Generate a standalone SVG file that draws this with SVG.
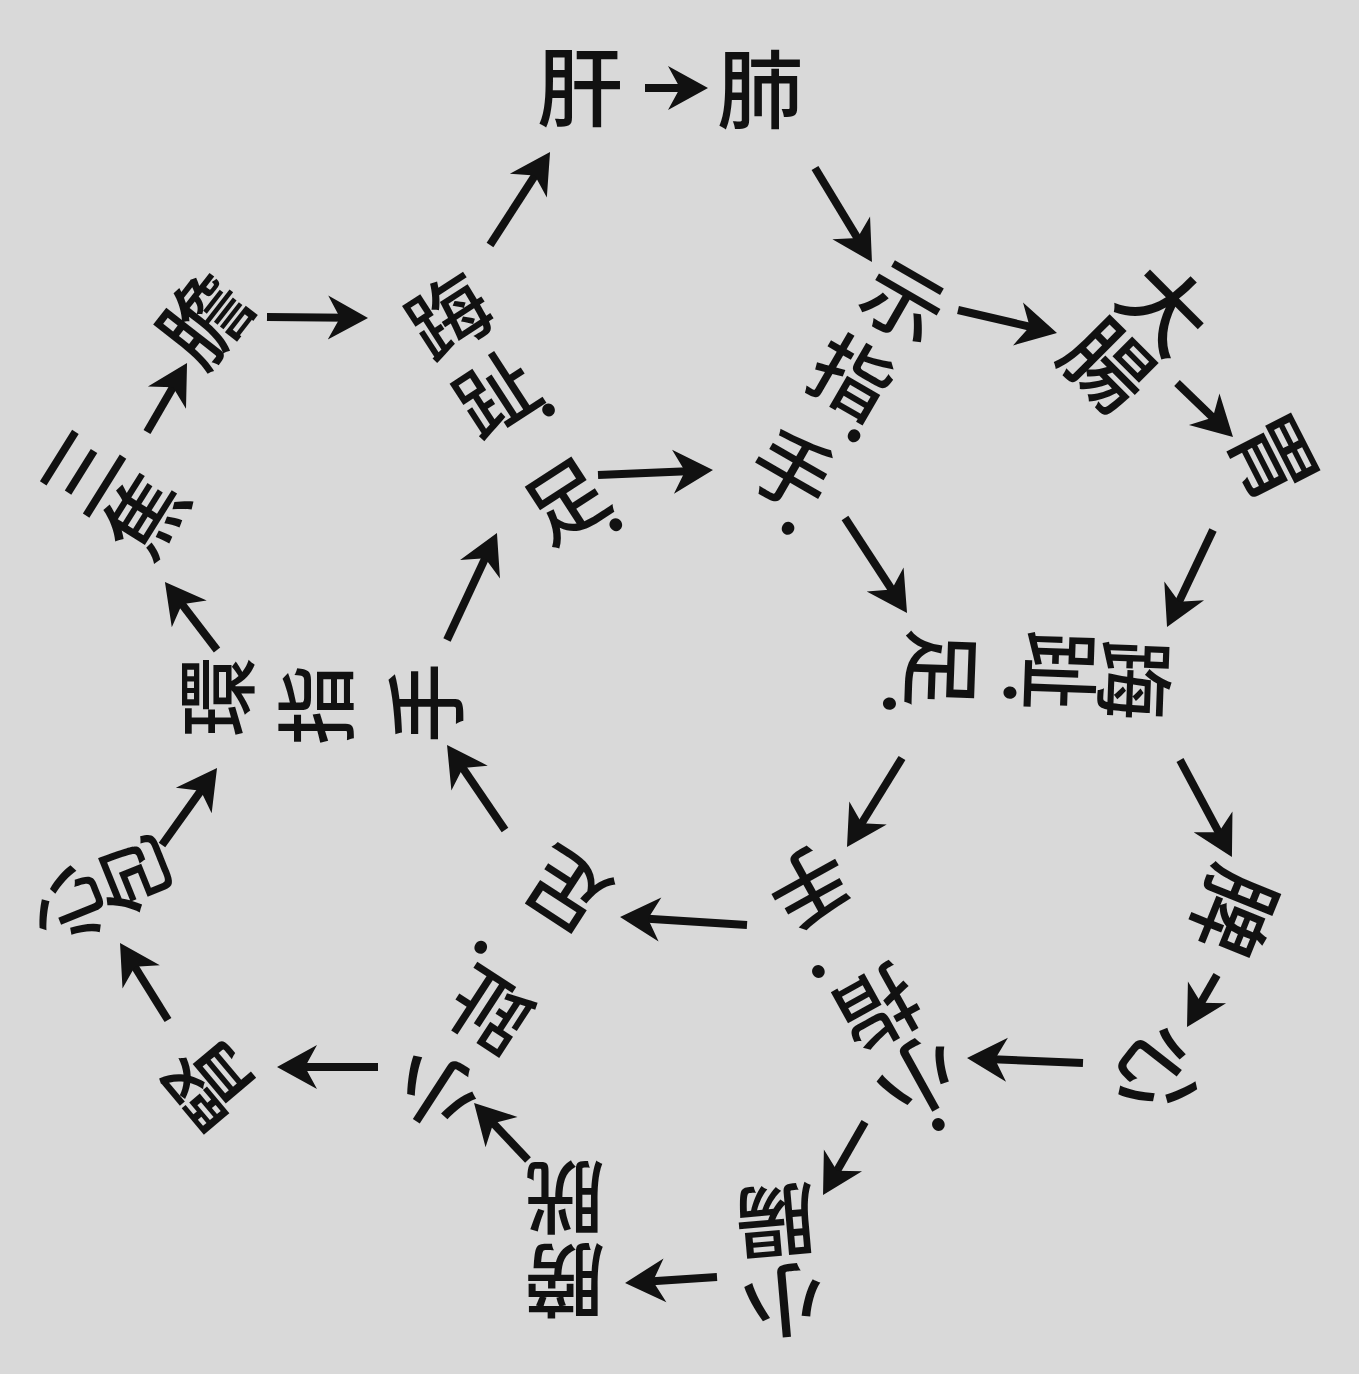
<svg xmlns="http://www.w3.org/2000/svg" width="1359" height="1374" viewBox="0 0 1359 1374">
<defs>
<style>
.t{font-family:"Noto Sans CJK JP","Noto Sans CJK SC",sans-serif;font-weight:500;fill:#111;text-anchor:middle;dominant-baseline:central;transform:translateY(-6px)}
.o{font-size:86px}
.i{font-size:80px}
.s{font-size:76px}
.b{font-size:80px}
.a{stroke:#111;stroke-width:8;fill:none;marker-end:url(#ah)}
</style>
<marker id="ah" markerUnits="userSpaceOnUse" viewBox="-22 -24 44 48" refX="0" refY="0" markerWidth="44" markerHeight="48" orient="auto"><path d="M20,0 L-20,-22 L-8,0 L-20,22 Z" fill="#111"/></marker>
</defs>
<rect width="1359" height="1374" fill="#d9d9d9"/>
<g id="n-kan"><text class="t o" x="580" y="88">肝</text></g>
<g id="n-hai"><text class="t o" x="760" y="90">肺</text></g>
<g id="n-jishi" transform="translate(903,303) rotate(30)"><text class="t i"><tspan x="0" y="0">示</tspan><tspan x="-7" y="91">指</tspan><tspan x="24" y="116">.</tspan><tspan x="-12" y="202">手</tspan><tspan x="13" y="229">.</tspan></text></g>
<g id="n-daicho" transform="translate(1165,308) rotate(45)"><text class="t o"><tspan x="0" y="0">大</tspan><tspan x="0" y="81">腸</tspan></text></g>
<g id="n-i" transform="translate(1273,458) rotate(63)"><text class="t o" x="0" y="0">胃</text></g>
<g id="n-boshi-r" transform="translate(1133,680) rotate(92)"><text class="t i"><tspan x="0" y="0">踇</tspan><tspan x="-7" y="75">趾</tspan><tspan x="17" y="99">.</tspan><tspan x="-5" y="193">足</tspan><tspan x="32" y="219">.</tspan></text></g>
<g id="n-hi" transform="translate(1233,912) rotate(112)"><text class="t o" x="0" y="0">脾</text></g>
<g id="n-shin" transform="translate(1158,1073) rotate(128)"><text class="t o" x="0" y="0">心</text></g>
<g id="n-shoshi-te" transform="translate(918,1077) rotate(151)"><text class="t i"><tspan x="5" y="-75">.</tspan><tspan x="0" y="0">小</tspan><tspan x="2" y="81">指</tspan><tspan x="36" y="117">.</tspan><tspan x="3" y="221">手</tspan></text></g>
<g id="n-shocho" transform="translate(784,1300) rotate(175)"><text class="t b"><tspan x="0" y="0">小</tspan><tspan x="1" y="80">腸</tspan></text></g>
<g id="n-boko" transform="translate(565,1280) rotate(180)"><text class="t b"><tspan x="0" y="0">膀</tspan><tspan x="0" y="83">胱</tspan></text></g>
<g id="n-shoshi-ashi" transform="translate(437,1090) rotate(213)"><text class="t i"><tspan x="0" y="0">小</tspan><tspan x="-1" y="96">趾</tspan><tspan x="41" y="120">.</tspan><tspan x="-1" y="239">足</tspan></text></g>
<g id="n-jin" transform="translate(210,1083) rotate(-130)"><text class="t o" x="0" y="0">腎</text></g>
<g id="n-shinpo" transform="translate(70,905) rotate(-112)"><text class="t s"><tspan x="0" y="0">心</tspan><tspan x="3" y="72">包</tspan></text></g>
<g id="n-kanshi" transform="translate(218,697) rotate(-90)"><text class="t i"><tspan x="0" y="0">環</tspan><tspan x="-8" y="99">指</tspan><tspan x="-6" y="209">手</tspan></text></g>
<g id="n-sansho" transform="translate(82,472) rotate(-58)"><text class="t b"><tspan x="0" y="0">三</tspan><tspan x="-3" y="77">焦</tspan></text></g>
<g id="n-tan" transform="translate(205,320) rotate(-52)"><text class="t o" x="0" y="0">膽</text></g>
<g id="n-boshi-l" transform="translate(450,317) rotate(-33)"><text class="t i"><tspan x="0" y="0">踇</tspan><tspan x="-3" y="91">趾</tspan><tspan x="32" y="108">.</tspan><tspan x="-3" y="218">足</tspan><tspan x="26" y="241">.</tspan></text></g>
<g id="connectors">
<line class="a" x1="645" y1="88" x2="688" y2="88"/>
<line class="a" x1="815" y1="168" x2="861.6" y2="244.9"/>
<line class="a" x1="958" y1="310" x2="1037.5" y2="328.5"/>
<line class="a" x1="1177" y1="383" x2="1218.6" y2="423.1"/>
<line class="a" x1="1213" y1="530" x2="1175.6" y2="608.9"/>
<line class="a" x1="1180" y1="760" x2="1222.5" y2="839.4"/>
<line class="a" x1="1217" y1="975" x2="1197" y2="1009.7"/>
<line class="a" x1="1083" y1="1063" x2="987" y2="1058.9"/>
<line class="a" x1="865" y1="1122" x2="833" y2="1177.7"/>
<line class="a" x1="717" y1="1277" x2="645" y2="1281.7"/>
<line class="a" x1="528" y1="1160" x2="487.8" y2="1117.5"/>
<line class="a" x1="378" y1="1067" x2="297" y2="1067"/>
<line class="a" x1="168" y1="1020" x2="130.6" y2="960"/>
<line class="a" x1="162" y1="845" x2="205.4" y2="784.3"/>
<line class="a" x1="217" y1="650" x2="177.1" y2="597.9"/>
<line class="a" x1="147" y1="432" x2="177" y2="380.3"/>
<line class="a" x1="267" y1="317" x2="348" y2="317.8"/>
<line class="a" x1="490" y1="245" x2="539.2" y2="168.8"/>
<line class="a" x1="845" y1="518" x2="896.1" y2="596.2"/>
<line class="a" x1="902" y1="758" x2="857.5" y2="830"/>
<line class="a" x1="747" y1="925" x2="640" y2="918.3"/>
<line class="a" x1="505" y1="830" x2="458.3" y2="761.5"/>
<line class="a" x1="447" y1="640" x2="488.5" y2="551.1"/>
<line class="a" x1="598" y1="475" x2="693" y2="470.9"/>
</g>
</svg>
